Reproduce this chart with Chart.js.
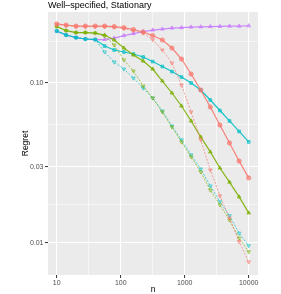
<!DOCTYPE html>
<html>
<head>
<meta charset="utf-8">
<script src="https://cdn.jsdelivr.net/npm/chart.js@4/dist/chart.umd.min.js"></script>
<style>
  body { margin: 0; background: #fff; }
  canvas { display: block; }
</style>
</head>
<body>
<canvas id="chart" width="281" height="294"></canvas>
<script>
// sample sizes (n)
const nValues = [10, 14, 20, 28, 40, 56, 79, 112, 158, 224, 316, 447, 631, 891, 1259, 1778, 2512, 3548, 5012, 7079, 10000];

// regret curves
const redSolid    = [0.234, 0.2305, 0.227, 0.227, 0.227, 0.227, 0.2255, 0.222, 0.216, 0.2084, 0.198, 0.1857, 0.1655, 0.1413, 0.1138, 0.0904, 0.0708, 0.0546, 0.0422, 0.0325, 0.0255];
const redDashed   = [0.232, 0.228, 0.225, 0.225, 0.225, 0.225, 0.223, 0.219, 0.212, 0.2053, 0.1865, 0.1608, 0.1333, 0.0971, 0.0659, 0.0441, 0.0286, 0.0197, 0.0143, 0.0102, 0.0076];
const greenSolid  = [0.2255, 0.2128, 0.2068, 0.2068, 0.2053, 0.1995, 0.1857, 0.1655, 0.1496, 0.1372, 0.1223, 0.1029, 0.0866, 0.0718, 0.0579, 0.046, 0.0371, 0.0294, 0.024, 0.0194, 0.0154];
const greenDashed = [0.2255, 0.2128, 0.2068, 0.2068, 0.2053, 0.1967, 0.1728, 0.1393, 0.1189, 0.0958, 0.0806, 0.0659, 0.0531, 0.0428, 0.0345, 0.0278, 0.0214, 0.0173, 0.0139, 0.0107, 0.0088];
const cyanSolid   = [0.2113, 0.1995, 0.1924, 0.1884, 0.187, 0.1702, 0.1608, 0.1563, 0.1518, 0.1454, 0.1362, 0.1268, 0.1179, 0.109, 0.1, 0.0904, 0.0783, 0.0673, 0.0579, 0.0498, 0.0428];
const cyanDashed  = [0.2113, 0.1995, 0.1924, 0.1884, 0.187, 0.1563, 0.1352, 0.1223, 0.1074, 0.0931, 0.0806, 0.0668, 0.0539, 0.0441, 0.0355, 0.029, 0.0227, 0.0181, 0.0148, 0.0115, 0.0096];
const purpleSolid = [0.2113, 0.1995, 0.1924, 0.1884, 0.187, 0.187, 0.191, 0.198, 0.2037, 0.2098, 0.2143, 0.2175, 0.2206, 0.222, 0.2239, 0.2245, 0.2255, 0.226, 0.2268, 0.2268, 0.228];

const xTickValues = [10, 100, 1000, 10000];
const xTickLabels = ["10", "100", "1000", "10000"];
const yTickValues = [0.01, 0.03, 0.1];
const yTickLabels = ["0.01", "0.03", "0.10"];

const titleText = "Well\u2013specified, Stationary";
const xTitle = "n";
const yTitle = "Regret";

Chart.defaults.font.family = "'Liberation Sans', Arial, sans-serif";

function withMinor(vals) {
  // ggplot style minor breaks: geometric midpoints, one step beyond each end
  let out = [];
  let mids = [];
  for (let i = 0; i < vals.length - 1; i++) mids.push(Math.sqrt(vals[i] * vals[i + 1]));
  mids.unshift(vals[0] * vals[0] / mids[0]);
  mids.push(vals[vals.length - 1] * vals[vals.length - 1] / mids[mids.length - 1]);
  vals.forEach(v => out.push({ value: v, major: true }));
  mids.forEach(v => out.push({ value: v, major: false }));
  return out.sort((a, b) => a.value - b.value);
}

function pts(arr) {
  return nValues.map((n, i) => ({ x: n, y: arr[i] }));
}

function series(arr, color, fill, style, dashed) {
  return {
    data: pts(arr),
    borderColor: color,
    backgroundColor: fill,
    borderWidth: dashed ? 1 : 1.2,
    borderDash: dashed ? [2, 1.5] : [],
    pointStyle: style,
    pointRotation: dashed ? 180 : 0,
    pointRadius: style === "rect" ? 1.9 : 2.1,
    pointBorderWidth: 0.8,
    pointBorderColor: color,
    pointBackgroundColor: fill,
    tension: 0
  };
}

const panel = {
  id: "panel",
  beforeDraw(chart) {
    const { ctx, chartArea: a } = chart;
    ctx.save();
    ctx.fillStyle = "#EBEBEB";
    ctx.fillRect(a.left, a.top, a.right - a.left, a.bottom - a.top);
    ctx.restore();
  },
  afterDraw(chart) {
    const { ctx, chartArea: a } = chart;
    ctx.save();
    ctx.fillStyle = "#000";
    ctx.textBaseline = "alphabetic";
    ctx.font = "9px 'Liberation Sans', Arial, sans-serif";
    ctx.textAlign = "left";
    ctx.fillText(titleText, a.left, 7.5);
    ctx.font = "8.5px 'Liberation Sans', Arial, sans-serif";
    ctx.textAlign = "center";
    ctx.textBaseline = "middle";
    ctx.fillText(xTitle, (a.left + a.right) / 2, 289.5);
    ctx.translate(26, (a.top + a.bottom) / 2);
    ctx.rotate(-Math.PI / 2);
    ctx.fillText(yTitle, 0, 0);
    ctx.restore();
  }
};

const gridOpts = {
  color: "#FFFFFF",
  lineWidth: c => (c.tick && c.tick.major ? 1.1 : 0.55),
  tickLength: 3,
  tickWidth: 1,
  tickColor: c => (c.tick && c.tick.major ? "#333333" : "rgba(0,0,0,0)")
};

new Chart(document.getElementById("chart"), {
  type: "line",
  data: {
    datasets: [
      series(redSolid, "rgba(248,118,109,0.9)", "rgba(248,118,109,0.6)", "circle", false),
      series(redDashed, "rgba(248,118,109,0.7)", "rgba(248,118,109,0.35)", "triangle", true),
      series(greenSolid, "rgba(124,174,0,0.9)", "rgba(124,174,0,0.6)", "triangle", false),
      series(greenDashed, "rgba(124,174,0,0.7)", "rgba(124,174,0,0.2)", "triangle", true),
      series(cyanSolid, "rgba(0,191,196,0.9)", "rgba(0,191,196,0.4)", "rect", false),
      series(cyanDashed, "rgba(0,191,196,0.7)", "rgba(0,191,196,0.15)", "triangle", true),
      series(purpleSolid, "rgba(199,124,255,0.9)", "rgba(199,124,255,0.6)", "triangle", false)
    ]
  },
  plugins: [panel],
  options: {
    responsive: false,
    animation: false,
    devicePixelRatio: 1,
    layout: { padding: { top: 12, right: 23, left: 0, bottom: 0 } },
    plugins: { legend: { display: false }, tooltip: { enabled: false }, title: { display: false } },
    scales: {
      x: {
        type: "logarithmic",
        min: 7.3,
        max: 13970,
        border: { display: false },
        grid: gridOpts,
        afterBuildTicks: s => { s.ticks = withMinor(xTickValues); },
        afterFit: s => { s.height = 19; },
        ticks: {
          autoSkip: false,
          maxRotation: 0,
          padding: 1,
          color: "#4D4D4D",
          font: { size: 7 },
          callback: v => { const i = xTickValues.indexOf(v); return i >= 0 ? xTickLabels[i] : ""; }
        }
      },
      y: {
        type: "logarithmic",
        min: 0.0063,
        max: 0.278,
        border: { display: false },
        grid: gridOpts,
        afterBuildTicks: s => { s.ticks = withMinor(yTickValues); },
        afterFit: s => { s.width = 48; },
        ticks: {
          autoSkip: false,
          padding: 1.5,
          color: "#4D4D4D",
          font: { size: 7 },
          callback: v => { const i = yTickValues.indexOf(v); return i >= 0 ? yTickLabels[i] : ""; }
        }
      }
    }
  }
});
</script>
</body>
</html>
